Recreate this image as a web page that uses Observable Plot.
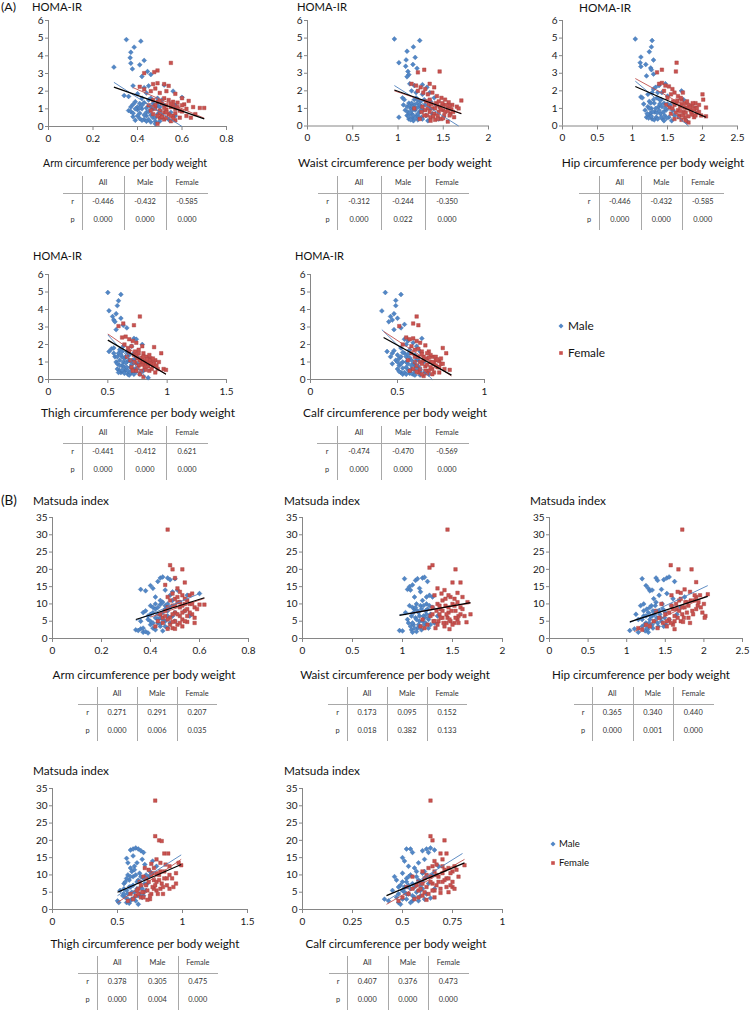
<!DOCTYPE html>
<html><head><meta charset="utf-8">
<script src="https://cdn.jsdelivr.net/npm/d3@7"></script>
<script src="https://cdn.jsdelivr.net/npm/@observablehq/plot@0.6"></script>
<style>
body{margin:0;background:#fff;}
#page{position:relative;width:750px;height:1012px;overflow:hidden;font-family:Lato,"Open Sans",sans-serif;color:#111;}
.t{position:absolute;white-space:nowrap;line-height:1.15;}
.ln{position:absolute;background:#a8a8a8;}
</style></head><body><div id="page"></div>
<script>
// ---------- tick labels ----------
const armTicks=[0,0.2,0.4,0.6,0.8];
const waistTicks=[0,0.5,1,1.5,2];
const hipTicks=[0,0.5,1,1.5,2,2.5];
const thighTicks=[0,0.5,1,1.5];
const calfTicksA=[0,0.5,1];
const calfTicksB=[0,0.25,0.5,0.75,1];
const homaTicks=[0,1,2,3,4,5,6];
const matsudaTicks=[0,5,10,15,20,25,30,35];
const xTitles=["Arm circumference per body weight","Waist circumference per body weight","Hip circumference per body weight","Thigh circumference per body weight","Calf circumference per body weight"];
const tableCols=["All","Male","Female"];
const seriesNames=["Male","Female"];

// ---------- HOMA-IR points [x, HOMA-IR] ----------
const armHomaMale=[[0.35,4.92],[0.415,4.83],[0.385,4.49],[0.37,4.2],[0.367,3.89],[0.37,3.58],[0.43,3.74],[0.41,3.49],[0.294,3.36],[0.377,3.26],[0.445,3.11],[0.42,2.83],[0.46,2.94],[0.38,2.3],[0.45,2.3],[0.52,2.35],[0.56,2.0],[0.6,1.65],[0.57,1.2],[0.34,1.75],[0.36,1.7],[0.37,1.1],[0.36,0.9],[0.38,0.55],[0.40,0.6],[0.39,1.4],[0.41,1.3],[0.42,1.0],[0.43,0.4],[0.44,0.8],[0.42,1.6],[0.44,1.9],[0.45,1.5],[0.46,1.1],[0.47,0.5],[0.48,0.3],[0.49,0.7],[0.47,1.3],[0.48,0.15],[0.5,0.9],[0.51,0.5],[0.52,1.2],[0.54,0.4],[0.46,0.25],[0.41,0.75],[0.42,0.35],[0.38,1.25],[0.40,0.95],[0.44,0.6],[0.49,1.6],[0.51,1.5],[0.55,0.8],[0.57,0.6],[0.43,2.2],[0.37,0.85],[0.40,1.85],[0.39,0.35],[0.4,1.1],[0.41,0.45],[0.42,1.2],[0.43,0.65],[0.43,1.35],[0.44,1.05],[0.45,0.4],[0.45,0.85],[0.46,0.65],[0.47,1.0],[0.48,0.5],[0.49,1.2],[0.5,0.3],[0.5,1.1],[0.38,0.75],[0.39,1.0],[0.44,0.3],[0.46,1.6],[0.41,1.05]];
const armHomaFemale=[[0.55,3.6],[0.49,3.17],[0.475,3.08],[0.43,3.02],[0.49,2.45],[0.47,2.4],[0.52,2.4],[0.54,2.3],[0.41,2.25],[0.43,2.1],[0.46,2.0],[0.48,2.15],[0.50,1.9],[0.53,2.0],[0.57,1.85],[0.6,1.6],[0.63,1.45],[0.61,1.25],[0.65,1.1],[0.68,1.05],[0.7,1.05],[0.66,0.7],[0.62,0.6],[0.64,0.5],[0.47,1.5],[0.49,1.4],[0.51,1.3],[0.53,1.2],[0.55,1.1],[0.57,1.0],[0.48,1.0],[0.5,0.9],[0.52,0.8],[0.54,0.7],[0.56,0.6],[0.59,0.9],[0.5,0.5],[0.52,0.4],[0.55,0.3],[0.49,0.15],[0.56,1.4],[0.58,1.35],[0.6,0.85],[0.45,1.2],[0.53,0.95],[0.51,0.65],[0.57,0.35],[0.62,1.0],[0.47,0.7],[0.48,1.2],[0.5,1.45],[0.51,0.55],[0.52,1.05],[0.53,0.5],[0.54,1.5],[0.55,0.6],[0.56,1.2],[0.57,0.75],[0.58,1.1],[0.59,0.5],[0.5,0.75],[0.52,1.6],[0.49,0.6],[0.55,1.3],[0.6,1.2],[0.47,1.1],[0.53,0.8],[0.46,0.9],[0.56,0.45]];
const waistHomaMale=[[0.96,4.95],[1.24,4.86],[1.17,4.5],[1.10,4.25],[1.19,3.9],[1.09,3.76],[1.01,3.6],[1.165,3.5],[1.085,3.4],[1.21,3.28],[1.11,3.1],[1.12,2.92],[1.10,2.8],[1.01,0.5],[1.13,2.4],[1.18,2.3],[1.27,2.35],[1.32,2.2],[1.35,1.9],[1.4,1.6],[1.05,1.6],[1.07,1.5],[1.06,1.2],[1.08,0.9],[1.1,0.6],[1.12,0.4],[1.12,1.3],[1.14,1.0],[1.15,0.7],[1.16,0.45],[1.18,1.2],[1.19,0.9],[1.2,1.6],[1.21,0.6],[1.22,0.35],[1.23,1.1],[1.24,0.8],[1.25,1.4],[1.26,0.5],[1.27,1.8],[1.28,0.9],[1.3,1.2],[1.31,0.6],[1.33,0.3],[1.35,1.0],[1.38,0.7],[1.42,1.2],[1.45,0.4],[1.15,2.0],[1.2,1.9],[1.1,1.1],[1.17,0.3],[1.29,1.5],[1.36,1.4],[1.11,0.8],[1.12,0.55],[1.13,1.15],[1.14,0.35],[1.15,1.3],[1.16,0.9],[1.17,0.6],[1.18,1.5],[1.19,0.45],[1.2,1.0],[1.21,1.3],[1.22,0.7],[1.23,0.5],[1.24,1.2],[1.25,0.9],[1.26,1.1],[1.27,0.4],[1.13,0.75],[1.16,1.1],[1.22,1.5]];
const waistHomaFemale=[[1.29,3.2],[1.46,3.1],[1.22,3.05],[1.15,2.4],[1.2,2.3],[1.25,2.2],[1.3,2.1],[1.35,2.4],[1.4,2.2],[1.22,2.0],[1.28,1.9],[1.33,1.8],[1.38,1.9],[1.43,1.7],[1.48,1.6],[1.52,1.5],[1.56,1.35],[1.6,1.2],[1.65,1.1],[1.7,1.45],[1.67,1.0],[1.62,0.5],[1.58,0.7],[1.55,0.25],[1.5,0.9],[1.46,1.1],[1.42,1.3],[1.38,1.0],[1.34,1.2],[1.3,0.9],[1.26,0.8],[1.32,0.6],[1.36,0.5],[1.4,0.7],[1.44,0.6],[1.48,0.4],[1.52,0.8],[1.27,1.1],[1.24,0.4],[1.45,1.4],[1.5,1.2],[1.55,1.0],[1.35,1.5],[1.41,0.35],[1.57,0.6],[1.18,1.0],[1.31,1.4],[1.33,1.0],[1.35,0.8],[1.37,1.25],[1.39,0.55],[1.41,1.0],[1.43,1.2],[1.45,0.8],[1.47,0.95],[1.49,1.3],[1.51,0.6],[1.53,1.2],[1.55,0.85],[1.57,1.15],[1.59,0.95],[1.36,0.3],[1.44,0.4],[1.5,0.45],[1.29,0.6],[1.61,0.8]];
const hipHomaMale=[[1.04,4.95],[1.28,4.86],[1.27,4.5],[1.24,4.22],[1.12,3.92],[1.11,3.6],[1.3,3.75],[1.19,3.5],[1.12,3.38],[1.26,3.3],[1.27,3.2],[1.2,2.85],[1.3,2.95],[1.12,1.65],[1.14,1.6],[1.16,1.25],[1.18,0.9],[1.2,0.5],[1.22,1.8],[1.24,1.4],[1.25,0.6],[1.27,1.0],[1.28,0.4],[1.3,2.1],[1.31,1.3],[1.32,0.8],[1.34,0.5],[1.35,1.6],[1.37,1.1],[1.38,2.3],[1.4,0.7],[1.42,1.9],[1.43,0.4],[1.45,1.3],[1.47,2.4],[1.48,0.9],[1.5,1.7],[1.52,0.5],[1.54,1.2],[1.56,0.3],[1.58,0.9],[1.6,0.6],[1.7,2.0],[1.73,1.5],[1.78,0.25],[1.28,1.9],[1.33,2.2],[1.36,1.9],[1.41,1.5],[1.46,0.6],[1.22,1.1],[1.26,0.75],[1.39,1.25],[1.21,0.7],[1.23,0.45],[1.24,1.0],[1.26,1.3],[1.27,0.55],[1.29,0.8],[1.3,1.5],[1.31,0.35],[1.33,1.0],[1.35,0.75],[1.36,0.4],[1.38,0.9],[1.39,1.5],[1.41,0.5],[1.42,1.1],[1.44,0.8],[1.45,0.3],[1.47,1.0],[1.49,0.45],[1.5,1.25]];
const hipHomaFemale=[[1.63,3.6],[1.62,3.1],[1.42,3.2],[1.35,3.05],[1.38,2.4],[1.42,2.45],[1.47,2.3],[1.52,2.25],[1.57,2.1],[1.6,1.9],[1.55,1.8],[1.45,2.0],[1.5,1.6],[1.65,1.7],[1.7,1.5],[1.75,1.3],[1.8,1.2],[1.85,1.15],[1.9,1.05],[1.95,0.8],[2.0,1.8],[2.01,1.5],[2.05,1.05],[2.05,0.55],[1.98,0.6],[1.92,0.75],[1.88,0.5],[1.83,0.9],[1.78,1.0],[1.73,0.8],[1.68,1.1],[1.63,1.3],[1.58,1.4],[1.55,0.7],[1.6,0.4],[1.7,0.35],[1.75,0.5],[1.8,0.2],[1.65,0.9],[1.85,0.65],[1.9,1.3],[1.72,1.9],[1.48,1.2],[1.53,1.05],[1.67,0.6],[1.95,1.2],[1.57,1.0],[1.6,1.2],[1.62,0.75],[1.64,1.45],[1.66,0.5],[1.68,0.85],[1.7,1.25],[1.72,0.6],[1.74,1.05],[1.76,0.75],[1.78,1.4],[1.8,0.55],[1.82,1.05],[1.84,0.8],[1.86,1.3],[1.88,0.95],[1.9,0.6],[1.92,1.0],[1.76,0.3],[1.69,1.6]];
const thighHomaMale=[[0.5,4.97],[0.61,4.86],[0.59,4.5],[0.58,4.22],[0.51,3.93],[0.57,3.76],[0.54,3.6],[0.61,3.5],[0.55,3.4],[0.56,3.3],[0.63,3.1],[0.57,2.85],[0.66,2.95],[0.51,1.6],[0.53,1.75],[0.55,1.8],[0.56,1.3],[0.57,1.0],[0.58,0.6],[0.59,1.5],[0.6,1.1],[0.61,0.4],[0.62,0.8],[0.63,1.9],[0.64,1.2],[0.65,0.5],[0.66,1.0],[0.67,0.3],[0.68,1.4],[0.69,0.7],[0.7,0.4],[0.71,1.1],[0.72,2.35],[0.73,0.6],[0.74,2.3],[0.75,0.9],[0.77,0.3],[0.79,2.0],[0.8,0.5],[0.84,0.1],[0.6,1.7],[0.62,1.3],[0.58,0.9],[0.66,1.6],[0.7,1.9],[0.64,0.7],[0.6,0.5],[0.68,0.25],[0.72,1.5],[0.76,1.2],[0.55,1.5],[0.63,0.45],[0.69,1.05],[0.58,1.3],[0.59,0.4],[0.6,0.8],[0.61,1.4],[0.62,0.55],[0.63,1.0],[0.64,0.35],[0.65,1.3],[0.66,0.7],[0.67,0.5],[0.68,1.1],[0.69,0.4],[0.7,0.85],[0.71,0.6],[0.72,0.3],[0.73,1.2],[0.74,0.45],[0.62,1.6],[0.65,0.95],[0.67,1.5]];
const thighHomaFemale=[[0.77,3.6],[0.72,3.1],[0.63,3.2],[0.59,3.05],[0.62,2.4],[0.65,2.45],[0.68,2.3],[0.71,2.2],[0.74,2.1],[0.64,2.0],[0.67,1.8],[0.7,1.9],[0.73,1.6],[0.76,1.7],[0.79,1.9],[0.8,1.5],[0.83,1.3],[0.86,1.2],[0.89,1.85],[0.9,1.1],[0.93,1.0],[0.95,1.5],[0.97,0.6],[0.99,0.55],[0.92,0.6],[0.88,0.8],[0.85,0.5],[0.82,0.9],[0.78,1.0],[0.75,1.2],[0.72,1.4],[0.69,1.1],[0.66,1.3],[0.7,0.7],[0.74,0.5],[0.77,0.3],[0.8,0.15],[0.84,0.95],[0.87,1.05],[0.81,0.7],[0.76,0.8],[0.73,0.95],[0.9,0.4],[0.79,1.25],[0.68,1.6],[0.85,1.1],[0.72,1.0],[0.74,1.35],[0.75,0.65],[0.77,1.1],[0.78,0.5],[0.79,0.85],[0.8,1.3],[0.81,1.05],[0.82,0.55],[0.83,1.15],[0.84,0.75],[0.85,1.4],[0.86,0.9],[0.87,0.6],[0.88,1.2],[0.89,0.9],[0.91,0.8],[0.76,1.5],[0.8,1.0],[0.71,0.5]];
const calfHomaMale=[[0.43,4.97],[0.52,4.86],[0.49,4.52],[0.49,4.22],[0.41,3.92],[0.48,3.76],[0.46,3.6],[0.47,3.4],[0.5,3.5],[0.45,3.3],[0.54,3.15],[0.52,2.95],[0.48,2.85],[0.44,1.6],[0.46,1.3],[0.47,0.9],[0.48,1.65],[0.5,0.6],[0.51,1.2],[0.52,0.4],[0.53,1.0],[0.54,1.5],[0.55,0.7],[0.56,2.2],[0.57,0.5],[0.58,1.1],[0.59,0.3],[0.6,0.8],[0.61,1.9],[0.62,0.5],[0.63,0.25],[0.64,2.35],[0.66,0.4],[0.68,0.3],[0.5,1.4],[0.52,1.8],[0.55,1.3],[0.57,1.7],[0.53,0.3],[0.56,0.9],[0.58,0.6],[0.6,1.4],[0.62,1.1],[0.54,2.3],[0.51,0.8],[0.49,1.1],[0.55,2.0],[0.59,2.1],[0.61,0.7],[0.47,1.5],[0.65,1.0],[0.63,1.6],[0.57,0.35],[0.5,1.0],[0.51,0.45],[0.52,1.3],[0.53,0.65],[0.54,0.4],[0.55,1.0],[0.56,0.55],[0.57,1.25],[0.58,0.35],[0.59,0.9],[0.6,0.5],[0.61,1.15],[0.62,0.75],[0.53,1.55],[0.55,0.3],[0.58,0.8],[0.56,1.45],[0.6,0.25],[0.52,0.9],[0.63,0.45]];
const calfHomaFemale=[[0.61,3.6],[0.62,3.1],[0.59,3.2],[0.51,3.05],[0.55,2.4],[0.57,2.3],[0.59,2.35],[0.61,2.2],[0.63,2.1],[0.66,1.95],[0.58,1.9],[0.6,1.7],[0.64,1.6],[0.68,1.6],[0.7,1.3],[0.72,1.1],[0.74,1.05],[0.76,1.8],[0.78,1.5],[0.8,0.55],[0.77,0.6],[0.75,0.9],[0.73,0.7],[0.71,0.9],[0.69,1.0],[0.67,1.2],[0.65,1.3],[0.63,1.0],[0.61,0.8],[0.59,0.6],[0.57,0.5],[0.62,0.4],[0.65,0.2],[0.68,0.5],[0.7,0.6],[0.66,0.75],[0.64,1.45],[0.6,1.3],[0.56,1.1],[0.72,1.3],[0.74,0.4],[0.58,1.5],[0.67,0.35],[0.69,1.4],[0.53,2.0],[0.62,1.75],[0.6,1.0],[0.62,1.3],[0.63,0.6],[0.64,0.9],[0.65,1.1],[0.66,0.5],[0.67,0.85],[0.68,1.25],[0.69,0.7],[0.7,1.0],[0.71,0.4],[0.72,0.8],[0.73,1.15],[0.74,0.7],[0.75,1.2],[0.76,0.9],[0.61,0.45],[0.64,0.3],[0.67,1.5],[0.7,0.3]];

// ---------- Matsuda index points [x, Matsuda] ----------
const armMatsMale=[[0.34,2.5],[0.35,2.3],[0.36,2.8],[0.37,1.8],[0.38,2.0],[0.39,1.6],[0.37,3.0],[0.36,14.2],[0.38,13.8],[0.4,15.3],[0.41,14.5],[0.43,16.5],[0.44,17.5],[0.45,17.8],[0.47,17.5],[0.48,17.0],[0.5,17.3],[0.46,14.0],[0.49,13.5],[0.42,12.0],[0.37,7.5],[0.38,8.0],[0.36,5.0],[0.39,5.5],[0.4,9.5],[0.41,9.0],[0.42,10.0],[0.43,7.0],[0.44,9.8],[0.45,10.5],[0.46,8.5],[0.47,6.5],[0.48,9.0],[0.49,11.0],[0.4,4.0],[0.41,3.0],[0.42,6.0],[0.43,4.5],[0.44,3.5],[0.45,2.2],[0.46,5.0],[0.47,3.0],[0.5,7.5],[0.52,10.5],[0.54,8.0],[0.56,6.5],[0.55,12.5],[0.6,13.0],[0.4,7.0],[0.48,12.5],[0.51,14.0],[0.39,6.5],[0.4,5.0],[0.41,7.5],[0.41,4.5],[0.42,8.5],[0.43,5.5],[0.43,9.0],[0.44,6.0],[0.44,4.2],[0.45,7.5],[0.45,5.5],[0.46,9.5],[0.46,3.5],[0.47,8.0],[0.48,4.5],[0.49,6.5],[0.5,5.0],[0.42,2.5],[0.44,11.0],[0.47,10.0]];
const armMatsFemale=[[0.47,31.5],[0.48,21.2],[0.49,20.0],[0.53,20.0],[0.54,16.2],[0.5,17.5],[0.46,15.5],[0.51,14.5],[0.52,13.5],[0.49,13.0],[0.47,12.0],[0.5,11.5],[0.53,12.5],[0.55,11.0],[0.56,10.0],[0.58,9.0],[0.6,9.8],[0.62,9.8],[0.59,8.5],[0.57,7.0],[0.55,6.5],[0.58,4.5],[0.53,5.5],[0.51,4.0],[0.49,3.0],[0.47,2.8],[0.45,4.5],[0.43,5.0],[0.42,3.5],[0.44,7.0],[0.46,8.0],[0.48,6.0],[0.5,7.5],[0.52,9.0],[0.54,8.0],[0.56,12.5],[0.51,10.5],[0.49,9.5],[0.53,3.5],[0.55,4.8],[0.47,5.5],[0.52,6.5],[0.54,10.0],[0.5,2.8],[0.57,13.0],[0.45,6.0],[0.46,6.5],[0.47,9.0],[0.48,4.0],[0.48,11.0],[0.49,7.0],[0.5,5.0],[0.5,9.5],[0.51,7.0],[0.51,12.0],[0.52,4.5],[0.52,10.5],[0.53,7.5],[0.53,9.5],[0.54,5.0],[0.54,11.5],[0.55,8.5],[0.56,7.5],[0.57,10.0],[0.58,6.0],[0.49,4.8]];
const waistMatsMale=[[0.97,2.3],[1.0,2.2],[1.02,17.3],[1.05,14.2],[1.07,15.0],[1.08,14.0],[1.1,15.5],[1.13,16.8],[1.15,17.3],[1.2,17.5],[1.22,17.7],[1.25,16.5],[1.27,12.5],[1.24,12.0],[1.3,12.0],[1.03,7.5],[1.05,5.5],[1.07,9.5],[1.08,3.5],[1.09,2.5],[1.1,1.8],[1.11,4.0],[1.12,8.5],[1.13,6.0],[1.14,10.0],[1.15,3.0],[1.16,7.5],[1.17,5.0],[1.18,9.5],[1.19,2.5],[1.2,11.0],[1.21,6.5],[1.22,4.0],[1.23,8.0],[1.24,10.0],[1.26,5.5],[1.28,7.0],[1.3,9.0],[1.32,4.5],[1.35,6.5],[1.12,12.0],[1.18,13.5],[1.1,9.0],[1.14,2.0],[1.06,4.5],[1.26,3.0],[1.17,14.5],[1.09,6.5],[1.1,4.5],[1.11,7.5],[1.12,3.0],[1.13,9.0],[1.14,5.5],[1.15,8.0],[1.16,4.0],[1.17,6.5],[1.18,3.5],[1.19,8.5],[1.2,5.0],[1.21,9.5],[1.22,6.0],[1.23,4.5],[1.24,7.0],[1.25,8.5],[1.26,6.0],[1.27,9.5],[1.28,4.0]];
const waistMatsFemale=[[1.45,31.5],[1.27,20.5],[1.3,21.2],[1.53,20.0],[1.5,16.2],[1.58,16.2],[1.35,14.5],[1.42,14.0],[1.55,13.2],[1.6,12.0],[1.65,10.5],[1.68,7.0],[1.64,4.7],[1.62,6.5],[1.58,9.0],[1.55,5.5],[1.52,4.5],[1.47,2.7],[1.44,4.5],[1.4,6.0],[1.38,8.5],[1.35,10.0],[1.32,12.5],[1.3,9.0],[1.28,6.5],[1.25,4.0],[1.22,3.0],[1.2,5.5],[1.18,3.5],[1.33,3.0],[1.36,5.0],[1.4,11.0],[1.43,9.5],[1.46,7.5],[1.48,12.0],[1.5,10.0],[1.53,8.0],[1.56,6.5],[1.45,6.0],[1.42,3.5],[1.37,7.0],[1.31,5.0],[1.6,8.5],[1.48,5.0],[1.52,11.5],[1.39,13.0],[1.3,7.0],[1.32,5.0],[1.34,8.0],[1.35,4.0],[1.37,9.5],[1.38,6.0],[1.4,8.0],[1.41,4.5],[1.43,11.5],[1.44,7.0],[1.46,9.0],[1.47,5.5],[1.49,8.0],[1.5,4.0],[1.52,9.5],[1.53,6.0],[1.55,10.5],[1.56,4.5],[1.58,7.0],[1.46,12.5]];
const hipMatsMale=[[1.04,2.3],[1.1,2.8],[1.15,1.8],[1.2,17.3],[1.25,15.3],[1.28,14.5],[1.3,13.8],[1.33,14.0],[1.38,17.5],[1.4,16.8],[1.48,17.0],[1.52,17.5],[1.55,17.8],[1.62,16.5],[1.45,14.2],[1.42,12.5],[1.35,11.5],[1.12,7.0],[1.15,5.5],[1.18,9.5],[1.2,3.5],[1.22,6.5],[1.24,2.2],[1.25,4.5],[1.26,8.5],[1.28,1.8],[1.3,5.5],[1.32,9.5],[1.34,3.0],[1.36,7.0],[1.38,10.5],[1.4,4.5],[1.42,8.0],[1.44,6.0],[1.46,10.0],[1.48,3.5],[1.5,7.5],[1.52,13.0],[1.55,5.5],[1.58,9.5],[1.6,11.5],[1.65,7.0],[1.7,9.0],[1.75,12.0],[1.27,2.7],[1.22,10.0],[1.33,6.5],[1.2,5.5],[1.22,8.0],[1.23,4.0],[1.25,6.5],[1.26,3.0],[1.28,7.5],[1.29,4.5],[1.3,9.0],[1.31,6.5],[1.33,4.0],[1.34,8.0],[1.36,5.0],[1.37,9.5],[1.39,6.0],[1.41,3.5],[1.43,7.0],[1.45,5.0],[1.47,8.5],[1.49,6.0],[1.51,4.0]];
const hipMatsFemale=[[1.72,31.5],[1.57,21.2],[1.67,20.0],[1.84,20.0],[1.9,16.3],[1.75,14.2],[1.82,13.5],[1.7,13.2],[1.95,12.5],[2.05,12.8],[2.0,10.0],[2.02,6.5],[2.01,6.0],[1.98,7.5],[1.92,9.5],[1.88,11.0],[1.85,8.0],[1.8,6.0],[1.78,10.5],[1.75,9.0],[1.72,7.0],[1.7,5.0],[1.68,11.0],[1.65,8.5],[1.62,6.5],[1.6,4.0],[1.58,9.5],[1.55,5.5],[1.52,3.5],[1.5,7.0],[1.47,4.5],[1.45,10.0],[1.42,6.0],[1.4,3.0],[1.38,8.0],[1.35,5.0],[1.3,3.5],[1.25,4.0],[1.2,2.5],[1.15,3.0],[1.62,2.7],[1.73,4.8],[1.9,12.0],[1.58,12.5],[1.82,4.5],[1.66,13.5],[1.52,5.0],[1.55,7.5],[1.57,4.5],[1.6,8.5],[1.62,5.0],[1.64,10.0],[1.66,6.0],[1.68,8.0],[1.7,11.5],[1.72,9.0],[1.74,6.0],[1.76,10.5],[1.78,7.5],[1.8,9.5],[1.83,11.0],[1.86,7.0],[1.88,12.5],[1.9,8.5],[1.93,10.5],[1.96,9.0]];
const thighMatsMale=[[0.5,2.5],[0.51,2.0],[0.52,5.5],[0.55,7.5],[0.57,14.8],[0.58,13.5],[0.6,17.2],[0.62,17.5],[0.64,17.8],[0.66,17.5],[0.68,17.0],[0.7,16.5],[0.6,12.0],[0.63,12.5],[0.58,10.0],[0.55,6.0],[0.56,3.5],[0.57,2.0],[0.58,4.5],[0.59,1.8],[0.6,6.5],[0.61,3.0],[0.62,9.5],[0.63,5.0],[0.64,2.5],[0.65,8.0],[0.66,4.0],[0.67,10.5],[0.68,6.5],[0.69,3.5],[0.7,9.0],[0.71,13.0],[0.72,5.5],[0.73,7.5],[0.75,11.0],[0.77,14.0],[0.8,12.5],[0.62,15.5],[0.65,13.5],[0.59,8.5],[0.61,11.0],[0.54,4.0],[0.66,1.5],[0.74,9.5],[0.57,9.0],[0.69,14.5],[0.55,4.5],[0.56,8.0],[0.57,5.5],[0.58,3.0],[0.59,6.5],[0.6,9.5],[0.61,5.0],[0.62,7.0],[0.63,3.5],[0.64,10.0],[0.65,6.0],[0.66,8.5],[0.67,4.5],[0.68,9.5],[0.69,6.0],[0.7,4.0],[0.71,7.5],[0.72,10.0],[0.6,2.5],[0.63,11.5]];
const thighMatsFemale=[[0.79,31.5],[0.79,21.2],[0.82,20.0],[0.84,19.8],[0.86,16.2],[0.89,16.2],[0.8,14.5],[0.76,13.2],[0.83,13.5],[0.9,12.5],[0.97,13.5],[0.99,12.8],[0.95,10.5],[0.93,6.5],[0.9,6.0],[0.88,9.0],[0.86,11.0],[0.84,7.5],[0.82,10.0],[0.8,5.5],[0.78,8.5],[0.76,4.5],[0.74,11.5],[0.72,7.0],[0.7,5.0],[0.68,3.5],[0.66,6.0],[0.64,4.0],[0.62,3.0],[0.6,4.5],[0.58,2.5],[0.7,9.5],[0.75,3.0],[0.8,8.0],[0.85,4.5],[0.92,9.0],[0.73,2.8],[0.65,5.5],[0.71,12.0],[0.78,6.0],[0.87,13.0],[0.67,8.0],[0.83,6.0],[0.77,10.5],[0.95,7.5],[0.66,4.5],[0.68,7.0],[0.69,5.0],[0.7,3.5],[0.72,9.0],[0.73,5.5],[0.74,8.0],[0.75,4.0],[0.76,10.0],[0.77,6.5],[0.78,12.0],[0.79,7.0],[0.8,10.5],[0.81,4.5],[0.82,8.5],[0.83,11.0],[0.85,6.5],[0.86,9.0],[0.88,7.0],[0.9,10.0]];
const calfMatsMale=[[0.41,3.0],[0.43,2.5],[0.45,5.5],[0.46,9.5],[0.47,3.5],[0.48,2.0],[0.49,1.5],[0.5,15.0],[0.51,14.0],[0.52,17.5],[0.53,12.5],[0.54,17.5],[0.55,16.5],[0.56,12.0],[0.6,17.0],[0.61,14.5],[0.62,17.5],[0.63,16.5],[0.64,17.8],[0.66,17.2],[0.5,8.0],[0.51,5.0],[0.52,3.0],[0.53,7.0],[0.54,10.0],[0.55,4.0],[0.56,6.5],[0.57,9.5],[0.58,2.5],[0.59,5.5],[0.6,8.0],[0.61,11.0],[0.62,4.5],[0.63,7.5],[0.64,3.3],[0.65,10.0],[0.66,6.0],[0.68,12.5],[0.5,10.5],[0.48,6.5],[0.47,8.5],[0.52,9.0],[0.55,2.5],[0.58,13.5],[0.59,7.0],[0.53,4.5],[0.48,4.5],[0.49,7.0],[0.5,3.0],[0.51,6.5],[0.52,4.5],[0.53,9.5],[0.54,6.0],[0.55,7.5],[0.56,3.5],[0.57,5.0],[0.58,8.5],[0.59,4.0],[0.6,6.0],[0.61,3.0],[0.62,9.5],[0.5,5.5],[0.54,2.0],[0.57,11.0],[0.52,8.0],[0.6,10.5]];
const calfMatsFemale=[[0.64,31.5],[0.64,21.2],[0.65,20.0],[0.71,20.0],[0.69,16.2],[0.72,16.2],[0.66,14.0],[0.67,13.0],[0.7,12.5],[0.73,12.0],[0.75,11.0],[0.77,11.5],[0.81,12.8],[0.75,6.5],[0.76,6.0],[0.74,7.0],[0.72,9.0],[0.7,10.5],[0.68,8.0],[0.69,4.8],[0.66,5.5],[0.64,9.5],[0.62,6.5],[0.6,4.0],[0.58,5.5],[0.56,3.0],[0.55,6.0],[0.53,4.5],[0.5,3.5],[0.48,2.5],[0.6,11.0],[0.63,12.0],[0.62,2.8],[0.65,7.5],[0.67,10.0],[0.71,8.5],[0.73,5.0],[0.58,8.0],[0.61,9.0],[0.57,7.0],[0.55,9.5],[0.66,3.5],[0.7,14.5],[0.78,9.5],[0.52,6.5],[0.58,3.5],[0.59,6.0],[0.6,7.5],[0.61,5.0],[0.62,10.0],[0.63,4.5],[0.64,8.0],[0.65,5.5],[0.66,11.0],[0.67,7.0],[0.68,9.5],[0.69,6.0],[0.7,8.0],[0.71,11.5],[0.72,6.5],[0.73,9.0],[0.74,10.5],[0.75,8.0],[0.76,12.5],[0.65,12.5]];

// ---------- trendlines [series, xStart, yStart, xEnd, yEnd] ----------
const armHomaFit=[["Male",0.294,2.5,0.6,0.0],["Female",0.38,2.2,0.70,0.47],["All",0.294,2.23,0.70,0.43]];
const waistHomaFit=[["Male",0.96,2.3,1.67,0.0],["Female",0.96,2.0,1.70,0.72],["All",0.96,2.05,1.70,0.7]];
const hipHomaFit=[["Male",1.04,2.55,1.8,0.0],["Female",1.04,2.7,2.05,0.5],["All",1.04,2.25,2.05,0.5]];
const thighHomaFit=[["Male",0.5,2.55,0.84,0.0],["Female",0.5,2.6,0.99,0.3],["All",0.5,2.25,0.99,0.3]];
const calfHomaFit=[["Male",0.41,2.85,0.7,0.0],["Female",0.42,2.75,0.81,0.2],["All",0.42,2.4,0.81,0.25]];
const armMatsFit=[["Male",0.34,5.2,0.6,13.0],["Female",0.4,6.2,0.62,11.6],["All",0.34,5.5,0.62,11.8]];
const waistMatsFit=[["Male",0.97,6.9,1.35,8.6],["Female",1.1,7.4,1.68,10.2],["All",0.97,6.7,1.68,10.4]];
const hipMatsFit=[["Male",1.04,4.6,2.05,15.3],["Female",1.1,2.0,2.05,12.5],["All",1.04,4.8,2.05,12.2]];
const thighMatsFit=[["Male",0.5,4.0,0.99,15.8],["Female",0.5,2.0,0.99,14.5],["All",0.5,5.0,0.99,13.0]];
const calfMatsFit=[["Male",0.42,2.5,0.8,16.2],["Female",0.42,1.5,0.81,14.5],["All",0.42,4.0,0.81,13.5]];

// ---------- correlation tables ----------
const homaR=[["-0.446","-0.432","-0.585"],["-0.312","-0.244","-0.350"],["-0.446","-0.432","-0.585"],["-0.441","-0.412","0.621"],["-0.474","-0.470","-0.569"]];
const homaP=[["0.000","0.000","0.000"],["0.000","0.022","0.000"],["0.000","0.000","0.000"],["0.000","0.000","0.000"],["0.000","0.000","0.000"]];
const matsR=[["0.271","0.291","0.207"],["0.173","0.095","0.152"],["0.365","0.340","0.440"],["0.378","0.305","0.475"],["0.407","0.376","0.473"]];
const matsP=[["0.000","0.006","0.035"],["0.018","0.382","0.133"],["0.000","0.001","0.000"],["0.000","0.004","0.000"],["0.000","0.000","0.000"]];

// ================= layout =================
const FONT='Lato,"Open Sans",sans-serif';
const BLUE="#4f81bd", RED="#c0504d", AXIS="#868686";
const page=document.getElementById("page");
function text(str,x,y,fs,opts={}){
  const d=document.createElement("div");d.className="t";d.textContent=str;
  page.appendChild(d);
  if(opts.width){d.style.fontSize="20px";const w=d.getBoundingClientRect().width;fs=20*opts.width/w;}
  d.style.fontSize=fs+"px";d.style.top=(y-fs*0.62)+"px";
  if(opts.align==="center"){d.style.left=x+"px";d.style.transform="translateX(-50%)";}
  else d.style.left=x+"px";
  if(opts.color)d.style.color=opts.color;
  return fs;
}
function line(x,y,w,h){const d=document.createElement("div");d.className="ln";
  Object.assign(d.style,{left:x+"px",top:y+"px",width:w+"px",height:h+"px"});page.appendChild(d);}

function scatter(c){
  const ml=30,mr=10,mt=8,mb=26;
  const w=c.x1-c.x0,h=c.yBot-c.yTop;
  const fitMark=(name,color,sw)=>Plot.link(c.fit.filter(d=>d[0]===name),{x1:d=>d[1],y1:d=>d[2],x2:d=>d[3],y2:d=>d[4],stroke:color,strokeWidth:sw});
  const svg=Plot.plot({
    width:w+ml+mr,height:h+mt+mb,marginLeft:ml,marginRight:mr,marginTop:mt,marginBottom:mb,
    style:{fontFamily:FONT,fontSize:"10px",color:"#1a1a1a",background:"transparent",overflow:"visible"},
    x:{domain:c.xDomain},y:{domain:c.yDomain},
    marks:[
      Plot.axisY({ticks:c.yTicks,tickSize:3,tickPadding:2,stroke:AXIS,label:null,tickFormat:d=>String(d)}),
      Plot.axisX({ticks:c.xTicks,tickSize:4,tickPadding:4,stroke:AXIS,label:null,tickFormat:d=>String(d)}),
      Plot.ruleX([c.xDomain[0]],{stroke:AXIS}),
      Plot.ruleY([c.yDomain[0]],{stroke:AXIS}),
      Plot.dot(c.male,{x:d=>d[0],y:d=>d[1],symbol:"diamond2",r:2.2,fill:"#5287c6",stroke:"#3d6ca8",strokeWidth:0.4}),
      Plot.dot(c.female,{x:d=>d[0],y:d=>d[1],symbol:"square",r:2.0,fill:"#c9524f",stroke:"#a33f3c",strokeWidth:0.4}),
      fitMark("Male",BLUE,0.9),fitMark("Female",RED,0.9),fitMark("All","#000",1.2)
    ]
  });
  svg.style.position="absolute";svg.style.left=(c.x0-ml)+"px";svg.style.top=(c.yTop-mt)+"px";
  page.appendChild(svg);
  text(c.yTitle,c.yTitleX,c.yTitleY,11,{width:c.yTitleW});
  text(c.xTitle,c.xTitleX,c.xTitleY,12,{align:"center",width:c.xTitleW});
  const t=c.table, cols=[0,1,2].map(k=>t.left+t.lw+k*t.cw);
  const right=t.left+t.lw+3*t.cw;
  cols.forEach(x=>line(x,t.H-8,1,54));
  line(t.left,t.H+9,right-t.left,1);
  const tc={align:"center",color:"#333"};
  tableCols.forEach((s,k)=>text(s,cols[k]+t.cw/2,t.H,7.4,tc));
  text("r",t.left+t.lw/2,t.H+19,7.4,tc);
  text("p",t.left+t.lw/2,t.H+37,7.4,tc);
  c.r.forEach((s,k)=>text(s,cols[k]+t.cw/2,t.H+19,7.4,tc));
  c.p.forEach((s,k)=>text(s,cols[k]+t.cw/2,t.H+37,7.4,tc));
}

const H="HOMA-IR", M="Matsuda index";
const panels=[
 {male:armHomaMale,female:armHomaFemale,fit:armHomaFit,xDomain:[0,0.8],xTicks:armTicks,yDomain:[0,6],yTicks:homaTicks,x0:48,x1:226,yTop:20,yBot:126,yTitle:H,yTitleX:32,yTitleY:8,yTitleW:50,xTitle:xTitles[0],xTitleX:125,xTitleY:163,xTitleW:164,r:homaR[0],p:homaP[0],table:{left:63,lw:19,cw:42,H:184}},
 {male:waistHomaMale,female:waistHomaFemale,fit:waistHomaFit,xDomain:[0,2],xTicks:waistTicks,yDomain:[0,6],yTicks:homaTicks,x0:307,x1:488,yTop:20,yBot:125.5,yTitle:H,yTitleX:297,yTitleY:8,yTitleW:50,xTitle:xTitles[1],xTitleX:395,xTitleY:163,xTitleW:194,r:homaR[1],p:homaP[1],table:{left:318,lw:19,cw:44,H:184}},
 {male:hipHomaMale,female:hipHomaFemale,fit:hipHomaFit,xDomain:[0,2.5],xTicks:hipTicks,yDomain:[0,6],yTicks:homaTicks,x0:562,x1:737,yTop:20,yBot:125.5,yTitle:H,yTitleX:579,yTitleY:8,yTitleW:52,xTitle:xTitles[2],xTitleX:653,xTitleY:163,xTitleW:183,r:homaR[2],p:homaP[2],table:{left:579,lw:20,cw:41.5,H:184}},
 {male:thighHomaMale,female:thighHomaFemale,fit:thighHomaFit,xDomain:[0,1.5],xTicks:thighTicks,yDomain:[0,6],yTicks:homaTicks,x0:48,x1:226,yTop:274,yBot:379,yTitle:H,yTitleX:33,yTitleY:257,yTitleW:49,xTitle:xTitles[3],xTitleX:138,xTitleY:413,xTitleW:194,r:homaR[3],p:homaP[3],table:{left:63,lw:19,cw:42,H:434}},
 {male:calfHomaMale,female:calfHomaFemale,fit:calfHomaFit,xDomain:[0,1],xTicks:calfTicksA,yDomain:[0,6],yTicks:homaTicks,x0:310,x1:484,yTop:274,yBot:379,yTitle:H,yTitleX:295,yTitleY:257,yTitleW:49,xTitle:xTitles[4],xTitleX:395,xTitleY:413,xTitleW:184,r:homaR[4],p:homaP[4],table:{left:317,lw:20,cw:44,H:434}},
 {male:armMatsMale,female:armMatsFemale,fit:armMatsFit,xDomain:[0,0.8],xTicks:armTicks,yDomain:[0,35],yTicks:matsudaTicks,x0:52,x1:248,yTop:517,yBot:638,yTitle:M,yTitleX:33,yTitleY:501,yTitleW:76,xTitle:xTitles[0],xTitleX:144,xTitleY:675,xTitleW:183,r:matsR[0],p:matsP[0],table:{left:78,lw:19,cw:40,H:695}},
 {male:waistMatsMale,female:waistMatsFemale,fit:waistMatsFit,xDomain:[0,2],xTicks:waistTicks,yDomain:[0,35],yTicks:matsudaTicks,x0:302,x1:502,yTop:517,yBot:638,yTitle:M,yTitleX:284,yTitleY:501,yTitleW:76,xTitle:xTitles[1],xTitleX:395,xTitleY:675,xTitleW:190,r:matsR[1],p:matsP[1],table:{left:328,lw:19,cw:40,H:695}},
 {male:hipMatsMale,female:hipMatsFemale,fit:hipMatsFit,xDomain:[0,2.5],xTicks:hipTicks,yDomain:[0,35],yTicks:matsudaTicks,x0:549,x1:742,yTop:517,yBot:638,yTitle:M,yTitleX:530,yTitleY:501,yTitleW:76,xTitle:xTitles[2],xTitleX:641,xTitleY:675,xTitleW:178,r:matsR[2],p:matsP[2],table:{left:574,lw:18,cw:40.5,H:695}},
 {male:thighMatsMale,female:thighMatsFemale,fit:thighMatsFit,xDomain:[0,1.5],xTicks:thighTicks,yDomain:[0,35],yTicks:matsudaTicks,x0:52,x1:247,yTop:788,yBot:909,yTitle:M,yTitleX:33,yTitleY:771,yTitleW:76,xTitle:xTitles[3],xTitleX:145,xTitleY:944,xTitleW:189,r:matsR[3],p:matsP[3],table:{left:78,lw:19,cw:40.3,H:964}},
 {male:calfMatsMale,female:calfMatsFemale,fit:calfMatsFit,xDomain:[0,1],xTicks:calfTicksB,yDomain:[0,35],yTicks:matsudaTicks,x0:302,x1:502,yTop:788,yBot:909,yTitle:M,yTitleX:284,yTitleY:771,yTitleW:76,xTitle:xTitles[4],xTitleX:396,xTitleY:944,xTitleW:181,r:matsR[4],p:matsP[4],table:{left:329,lw:18,cw:40.5,H:964}}
];
panels.forEach(scatter);

text("(A)",1,8,11,{width:15});
text("(B)",1,501,11,{width:16});

function legend(x,y1,y2,tx,femaleW){
  const mk=(y,shape)=>{
    const s=document.createElementNS("http://www.w3.org/2000/svg","svg");
    s.setAttribute("width",8);s.setAttribute("height",8);
    Object.assign(s.style,{position:"absolute",left:(x-4)+"px",top:(y-4)+"px"});
    s.innerHTML=shape==="d"?`<path d="M4,1.5L6.5,4L4,6.5L1.5,4Z" fill="#5287c6"/>`:`<rect x="2.2" y="2.2" width="3.6" height="3.6" fill="#c9524f"/>`;
    page.appendChild(s);
  };
  mk(y1,"d");mk(y2,"s");
  const fs=text(seriesNames[1],tx,y2,11,{width:femaleW});
  text(seriesNames[0],tx,y1,fs);
}
legend(561,326,353,568,37);
legend(553,844,863,559,30);
</script></body></html>
